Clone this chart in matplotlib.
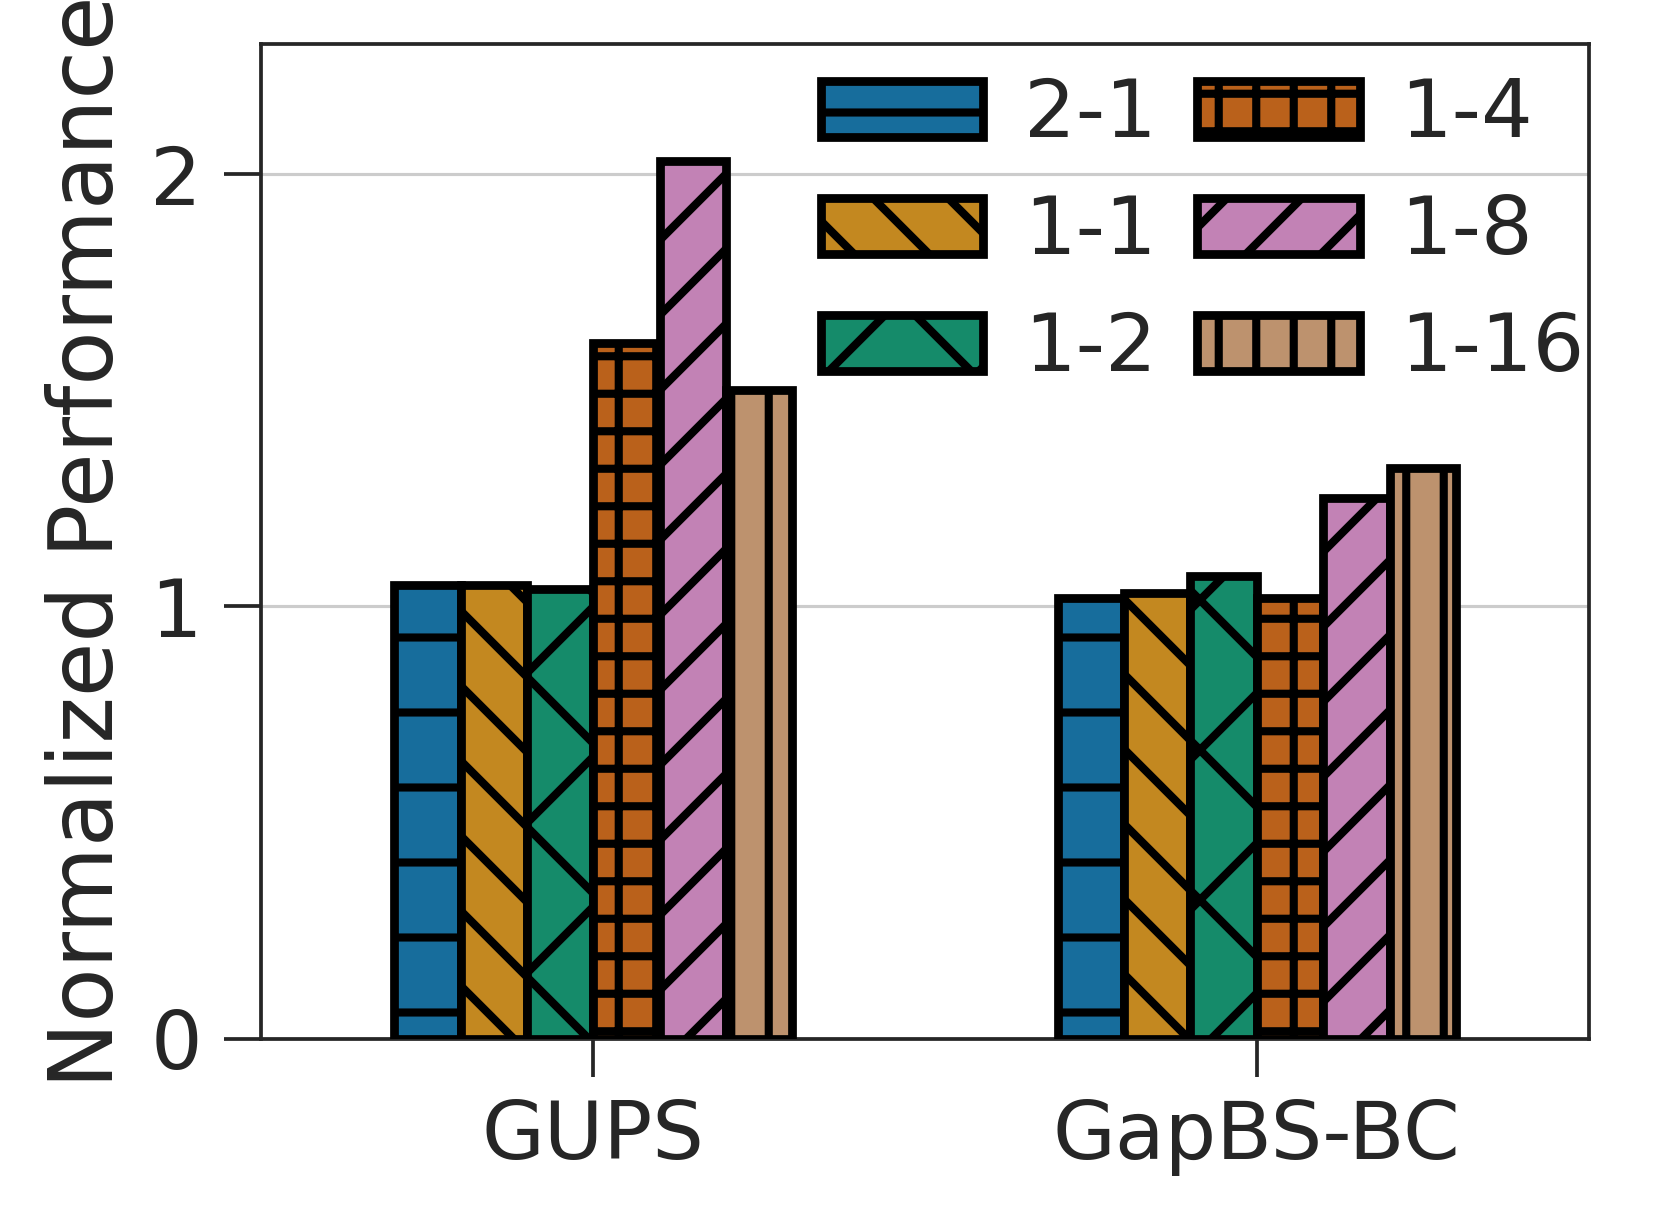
import numpy as np
import seaborn as sns
import matplotlib.pyplot as plt

benchmarks = ["GUPS", "GapBS-BC"]
configs = ["2-1", "1-1", "1-2", "1-4", "1-8", "1-16"]
hatches = ["-", "\\\\", "x", "++", "//", "||"]

# normalized performance per config, [GUPS, GapBS-BC]
perf_2_1 = [1.05, 1.02]
perf_1_1 = [1.05, 1.03]
perf_1_2 = [1.04, 1.07]
perf_1_4 = [1.61, 1.02]
perf_1_8 = [2.03, 1.25]
perf_1_16 = [1.50, 1.32]


def genFig():
    sns.set_style("ticks")
    plt.rcParams["font.family"] = ["DejaVu Sans"]
    plt.rcParams["hatch.linewidth"] = 1.3

    series = [perf_2_1, perf_1_1, perf_1_2, perf_1_4, perf_1_8, perf_1_16]
    colors = [sns.desaturate(c, 0.75) for c in sns.color_palette("colorblind", 6)]

    fig = plt.figure(figsize=(1660 / 450, 1219 / 450), dpi=450)
    ax = fig.add_axes([0.1575, 0.148, 0.7995, 0.8155])

    x = np.arange(len(benchmarks))
    width = 0.1
    for i, (vals, lab) in enumerate(zip(series, configs)):
        ax.bar(x + (i - 2.5) * width, vals, width, label=lab, color=colors[i],
               edgecolor="black", linewidth=1.4, hatch=hatches[i], zorder=3)

    ax.set_xlim(-0.5, 1.5)
    ax.set_ylim(0, 2.3)
    ax.set_yticks([0, 1, 2])
    ax.set_xticks(x)
    ax.set_xticklabels(benchmarks, fontsize=13)
    ax.tick_params(axis="y", labelsize=13, length=6, width=0.6)
    ax.tick_params(axis="x", length=6, width=0.6)
    ax.yaxis.grid(True, color="#cccccc", linewidth=0.5, zorder=0)
    for s in ax.spines.values():
        s.set_linewidth(0.6)
        s.set_color("#262626")
    ax.set_ylabel("Normalized Performance", fontsize=14.2, labelpad=3)

    ax.legend(ncol=2, loc="upper right", bbox_to_anchor=(1.003, 0.976),
              frameon=False, fontsize=13, handlelength=2.0, labelspacing=0.48,
              columnspacing=0.5, handletextpad=0.5, borderaxespad=0,
              borderpad=0.1)

    fig.savefig("out.png", dpi=450)


if __name__ == "__main__":
    genFig()
